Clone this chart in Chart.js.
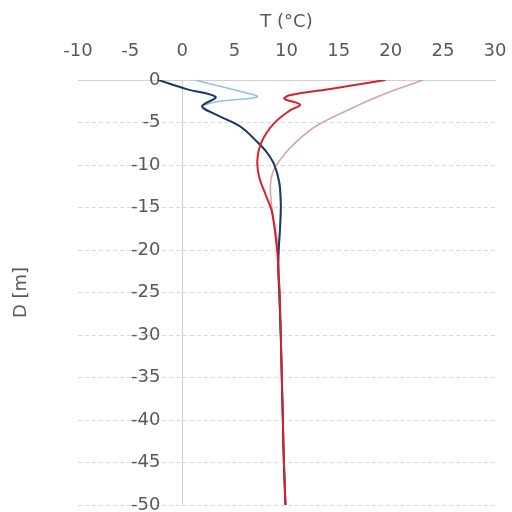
<!DOCTYPE html>
<html>
<head>
<meta charset="utf-8">
<script src="https://cdn.jsdelivr.net/npm/chart.js@4"></script>
<style>
html,body{margin:0;padding:0;background:#fff;}
#wrap{width:512px;height:512px;}
</style>
</head>
<body>
<div id="wrap"><canvas id="c" width="512" height="512"></canvas></div>
<script>
// Temperature profiles: T (°C) at depth D (m)
const navyT  = [-2.3, 0.5, 3.2, 1.9, 3.3, 5.6, 7.2, 8.1, 8.8, 9.3, 9.45, 9.4, 9.25, 9.2, 9.3, 9.45, 9.55, 9.65, 9.75, 9.9];
const navyD  = [0, -1.1, -2.0, -3.1, -4.1, -5.5, -7.3, -8.5, -9.9, -12, -14.5, -17, -20, -22, -25, -30, -35, -40, -45, -50];

const lightT = [1.2, 3.5, 5.8, 7.2, 3.6, 2.2, 1.9, 3.3, 5.6, 7.2, 8.1, 8.8, 9.3, 9.45, 9.4, 9.25, 9.3, 9.45, 9.55, 9.65, 9.75, 9.9];
const lightD = [0, -0.7, -1.4, -2.0, -2.5, -2.9, -3.1, -4.1, -5.5, -7.3, -8.5, -9.9, -12, -14.5, -17, -20, -25, -30, -35, -40, -45, -50];

const redT   = [19.5, 14.5, 10.3, 9.8, 11.3, 10.3, 8.8, 7.6, 7.2, 7.4, 8.0, 8.6, 9.1, 9.25, 9.35, 9.45, 9.55, 9.65, 9.75, 9.9];
const redD   = [0, -1.0, -1.8, -2.2, -2.9, -3.6, -5.1, -7.3, -9.5, -11.5, -13.5, -15.5, -20, -23, -25, -30, -35, -40, -45, -50];

const pinkT  = [23.1, 19.5, 16.3, 13.0, 11.0, 9.5, 8.7, 8.45, 8.6, 9.0, 9.2, 9.3, 9.45, 9.55, 9.65, 9.75, 9.9];
const pinkD  = [0, -1.6, -3.3, -5.3, -7.2, -9.2, -10.8, -12.5, -15, -18, -20, -25, -30, -35, -40, -45, -50];

const xTitle = 'T (°C)';
const yTitle = 'D [m]';

function pts(ts, ds){ return ts.map((t,i)=>({x:t, y:ds[i]})); }

const FONT = {family:'"DejaVu Sans", sans-serif', size:18};
const TXT = '#595959';
const zeroPad = s => { s.paddingLeft = 0; s.paddingRight = 0; s.paddingTop = 0; s.paddingBottom = 0; };

new Chart(document.getElementById('c'), {
  type: 'scatter',
  data: {
    // first dataset is drawn on top
    datasets: [
      {label:'red', data: pts(redT, redD), borderColor:'#d4232b', borderWidth:2},
      {label:'navy', data: pts(navyT, navyD), borderColor:'#1f3864', borderWidth:2},
      {label:'light', data: pts(lightT, lightD), borderColor:'#92c4dc', borderWidth:1.6},
      {label:'pink', data: pts(pinkT, pinkD), borderColor:'#d6a4a4', borderWidth:1.6}
    ].map(d => Object.assign(d, {showLine:true, pointRadius:0, tension:0.35, fill:false}))
  },
  options: {
    responsive:false,
    animation:false,
    layout:{padding:{left:7, right:17, top:8, bottom:7}},
    plugins:{legend:{display:false}, tooltip:{enabled:false}},
    scales:{
      x:{
        type:'linear', position:'top', min:-10, max:30,
        ticks:{stepSize:5, color:TXT, font:FONT, padding:18},
        grid:{drawOnChartArea:false, drawTicks:false},
        border:{display:true, color:'#d0d0d0', width:1},
        title:{display:true, text:xTitle, color:TXT, font:FONT, padding:{top:4,bottom:4}},
        afterFit: s => { s.height = 72; zeroPad(s); }
      },
      y:{
        type:'linear', position:{x:-2.1}, min:-50, max:0,
        ticks:{stepSize:5, color:TXT, font:FONT},
        grid:{drawTicks:false, color: c => (c.tick && c.tick.value === 0) ? 'rgba(0,0,0,0)' : '#d9d9d9', lineWidth:1},
        border:{display:false, dash:[4,3]},
        afterFit: zeroPad
      },
      y0:{
        type:'linear', position:{x:0}, min:-50, max:0,
        ticks:{display:false},
        grid:{display:false, drawTicks:false},
        border:{display:true, color:'#d0d0d0', width:1},
        afterFit: zeroPad
      },
      yT:{
        type:'linear', position:'left', min:-50, max:0,
        ticks:{display:false},
        grid:{display:false},
        border:{display:false},
        title:{display:true, text:yTitle, color:TXT, font:FONT, padding:{top:4,bottom:4}},
        afterFit: s => { s.width = 71; zeroPad(s); }
      }
    }
  }
});
</script>
</body>
</html>
